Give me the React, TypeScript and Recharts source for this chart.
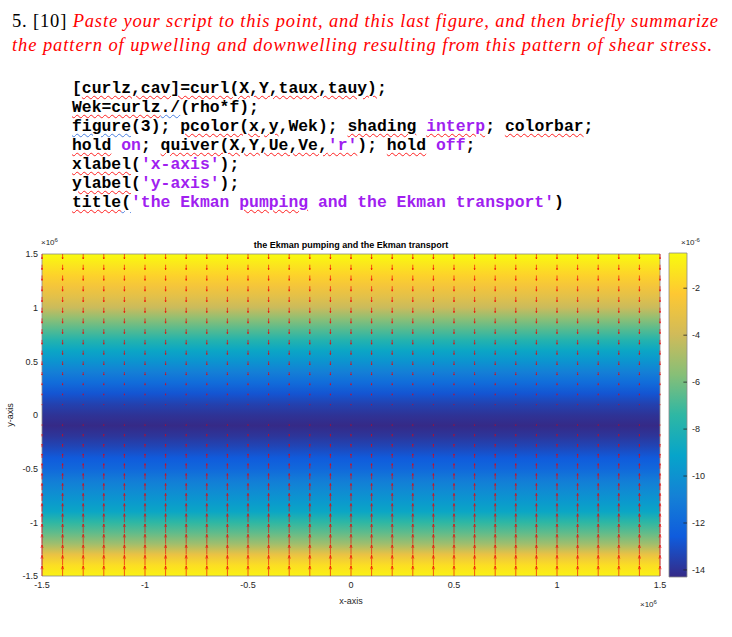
import React from "react";
import { ComposedChart, XAxis, YAxis, ReferenceArea, ReferenceLine } from "recharts";

// quiver grid (x and y, in units of 1e6 m)
const gridX = [-1.5, -1.4, -1.3, -1.2, -1.1, -1.0, -0.9, -0.8, -0.7, -0.6, -0.5, -0.4, -0.3, -0.2, -0.1, 0, 0.1, 0.2, 0.3, 0.4, 0.5, 0.6, 0.7, 0.8, 0.9, 1.0, 1.1, 1.2, 1.3, 1.4, 1.5];
const gridY = [1.5, 1.4, 1.3, 1.2, 1.1, 1.0, 0.9, 0.8, 0.7, 0.6, 0.5, 0.4, 0.3, 0.2, 0.1, 0, -0.1, -0.2, -0.3, -0.4, -0.5, -0.6, -0.7, -0.8, -0.9, -1.0, -1.1, -1.2, -1.3, -1.4, -1.5];

// Ekman pumping Wek (x 1e-6 m/s) for each row of gridY, same along x
const wekValues = [-0.5, -1.2, -1.9, -2.6, -3.3, -4.1, -5.5, -6.6, -7.8, -8.9, -9.9, -10.9, -11.8, -12.8, -13.5, -14.0, -14.3, -13.9, -13.3, -12.6, -12.0, -11.1, -10.4, -9.7, -8.9, -7.4, -6.4, -5.1, -3.0, -1.5, -0.8];

// Ekman transport, northward part Ve for each row (Ue is zero everywhere)
const veValues = [-0.5, -0.5, -0.5, -0.5, -0.5, -0.5, -0.48, -0.46, -0.44, -0.4, -0.36, -0.3, -0.23, -0.16, -0.08, 0, 0.1, 0.2, 0.3, 0.4, 0.5, 0.58, 0.66, 0.74, 0.8, 0.86, 0.91, 0.95, 0.98, 1.0, 1.01];

const xTicks = [-1.5, -1, -0.5, 0, 0.5, 1, 1.5];
const yTicks = [-1.5, -1, -0.5, 0, 0.5, 1, 1.5];
const cbTicks = [-14, -12, -10, -8, -6, -4, -2];

// parula colormap anchors
const PARULA = [
  [0.2081, 0.1663, 0.5292],
  [0.0591, 0.3598, 0.8683],
  [0.0779, 0.504, 0.8384],
  [0.0231, 0.6418, 0.7913],
  [0.1801, 0.7177, 0.6424],
  [0.53, 0.7491, 0.4661],
  [0.8185, 0.7327, 0.3498],
  [0.9955, 0.7861, 0.1967],
  [0.9763, 0.9831, 0.0538],
];

const parula = (t: number) => {
  const c = Math.max(0, Math.min(1, t)) * (PARULA.length - 1);
  const i = Math.min(PARULA.length - 2, Math.floor(c));
  const f = c - i;
  const rgb = PARULA[i].map((v, k) => Math.round(255 * (v + (PARULA[i + 1][k] - v) * f)));
  return `rgb(${rgb.join(",")})`;
};

const cMin = Math.min(...wekValues);
const cMax = Math.max(...wekValues);
const ARROW_SCALE = 0.093;
const FONT = "'Liberation Sans', Arial, sans-serif";
const tickStyle = { fontSize: 9, fill: "#262626", fontFamily: FONT };

const arrows = gridY.flatMap((y, i) => gridX.map((x) => ({ x, y, v: veValues[i] })));

// MATLAB style quiver head
const Arrow = (p: any) => {
  const { x1, y1, x2, y2 } = p;
  const dx = x2 - x1;
  const dy = y2 - y1;
  const a = 0.33;
  const b = 0.33;
  const hx = x2 - a * (dx + b * dy);
  const hy = y2 - a * (dy - b * dx);
  const gx = x2 - a * (dx - b * dy);
  const gy = y2 - a * (dy + b * dx);
  return (
    <path
      d={`M${x1},${y1}L${x2},${y2}M${hx},${hy}L${x2},${y2}L${gx},${gy}`}
      stroke="#f00000"
      strokeWidth={0.85}
      strokeOpacity={0.75}
      fill="none"
    />
  );
};

const Code = ({ children, c }: { children: React.ReactNode; c?: string }) => (
  <span style={{ color: c || "#000" }}>{children}</span>
);
const W = ({ children, blue }: { children: React.ReactNode; blue?: boolean }) => (
  <span
    style={{
      textDecorationLine: "underline",
      textDecorationStyle: "wavy",
      textDecorationColor: blue ? "#4a7fe0" : "#ff2020",
      textDecorationThickness: "1px",
      textUnderlineOffset: "2px",
    }}
  >
    {children}
  </span>
);
const P = "#a020f0";

export default function App() {
  return (
    <div style={{ position: "absolute", left: 0, top: 0, width: 732, height: 637, background: "#fff" }}>
      <svg width={732} height={70} style={{ position: "absolute", left: 0, top: 0 }}>
        <text x={12} y={27} fontSize={18.5} fontFamily="'Liberation Serif', serif" textLength={706} lengthAdjust="spacing">
          <tspan fill="#000">5. [10] </tspan>
          <tspan fill="#ff0000" fontStyle="italic">
            Paste your script to this point, and this last figure, and then briefly summarize
          </tspan>
        </text>
        <text x={12} y={51} fontSize={18.5} fontFamily="'Liberation Serif', serif" fill="#ff0000" fontStyle="italic" textLength={700} lengthAdjust="spacing">
          the pattern of upwelling and downwelling resulting from this pattern of shear stress.
        </text>
      </svg>

      <div
        style={{
          position: "absolute",
          left: 72,
          top: 79,
          fontFamily: "'Liberation Mono', 'Courier New', monospace",
          fontWeight: "bold",
          fontSize: 16.4,
          lineHeight: "19px",
          whiteSpace: "pre",
        }}
      >
        <div>[<W>curlz,cav]=curl(X,Y,taux,tauy)</W>;</div>
        <div><W>Wek=curlz</W><W blue>./</W>(rho*f);</div>
        <div><W blue>figure</W>(3); <W>pcolor(x,y</W>,Wek); <W>shading</W> <W><Code c={P}>interp</Code></W>; <W>colorbar</W>;</div>
        <div><W>hold</W> <Code c={P}>on</Code>; <W>quiver(X,Y,Ue,Ve,<Code c={P}>'r'</Code></W>); <W>hold</W> <Code c={P}>off</Code>;</div>
        <div><W>xlabel</W>(<Code c={P}>'x-axis'</Code>);</div>
        <div><W>ylabel</W>(<Code c={P}>'y-axis'</Code>);</div>
        <div><W>title</W><W blue>(</W><Code c={P}>'the Ekman <W>pumping</W> and the Ekman transport'</Code>)</div>
      </div>

      <div style={{ position: "absolute", left: 0, top: 230 }}>
        <ComposedChart width={732} height={400} margin={{ top: 24, right: 72, bottom: 34, left: 12 }}>
          <defs>
            <linearGradient id="wekFill" x1="0" y1="0" x2="0" y2="1">
              {gridY.map((y, i) => (
                <stop key={i} offset={(1.5 - y) / 3} stopColor={parula((wekValues[i] - cMin) / (cMax - cMin))} />
              ))}
            </linearGradient>
          </defs>
          <XAxis
            type="number"
            dataKey="x"
            domain={[-1.5, 1.5]}
            ticks={xTicks}
            allowDataOverflow
            height={20}
            axisLine={false}
            tickLine={false}
            tickSize={4}
            tickMargin={2}
            tick={tickStyle}
            interval={0}
          />
          <YAxis
            type="number"
            dataKey="y"
            domain={[-1.5, 1.5]}
            ticks={yTicks}
            allowDataOverflow
            width={30}
            axisLine={false}
            tickLine={false}
            tickSize={3}
            tickMargin={1}
            tick={tickStyle}
            interval={0}
          />
          <ReferenceArea x1={-1.5} x2={1.5} y1={-1.5} y2={1.5} fill="url(#wekFill)" fillOpacity={1} stroke="none" />
          {arrows.map((a, i) => (
            <ReferenceLine
              key={i}
              segment={[
                { x: a.x, y: a.y },
                { x: a.x, y: a.y + a.v * ARROW_SCALE },
              ]}
              shape={Arrow}
            />
          ))}
          <ReferenceArea x1={-1.5} x2={1.5} y1={-1.5} y2={1.5} fill="none" fillOpacity={0} stroke="#8a8a8a" strokeWidth={0.8} />
        </ComposedChart>
      </div>

      <div style={{ position: "absolute", left: 660, top: 230 }}>
        <ComposedChart width={72} height={400} margin={{ top: 23, right: 15, bottom: 53, left: 9 }}>
          <defs>
            <linearGradient id="cbFill" x1="0" y1="0" x2="0" y2="1">
              {PARULA.map((_, i) => (
                <stop key={i} offset={i / (PARULA.length - 1)} stopColor={parula(1 - i / (PARULA.length - 1))} />
              ))}
            </linearGradient>
          </defs>
          <XAxis type="number" dataKey="x" domain={[0, 1]} ticks={[0, 1]} allowDataOverflow height={0} axisLine={false} tickLine={false} tick={false} />
          <YAxis
            type="number"
            dataKey="y"
            orientation="right"
            domain={[cMin, cMax]}
            ticks={cbTicks}
            allowDataOverflow
            width={30}
            axisLine={false}
            tickLine={false}
            tickSize={0}
            tickMargin={5}
            tick={{ ...tickStyle, textAnchor: "start" }}
            interval={0}
          />
          <ReferenceArea x1={0} x2={1} y1={cMin} y2={cMax} fill="url(#cbFill)" fillOpacity={1} stroke="#8a8a8a" strokeWidth={0.8} />
          {cbTicks.map((t) => (
            <ReferenceLine key={t} segment={[{ x: 0.8, y: t }, { x: 1, y: t }]} stroke="#262626" strokeWidth={0.8} />
          ))}
        </ComposedChart>
      </div>

      <svg width={732} height={637} style={{ position: "absolute", left: 0, top: 0, pointerEvents: "none" }}>
        <g fontFamily={FONT}>
          <text x={351} y={248} textAnchor="middle" fontSize={9} fontWeight="bold" fill="#000">
            the Ekman pumping and the Ekman transport
          </text>
          <text x={41} y={245} fontSize={8} fill="#262626">
            ×10<tspan dy={-3.5} fontSize={6}>6</tspan>
          </text>
          <text x={640} y={607} fontSize={8} fill="#262626">
            ×10<tspan dy={-3.5} fontSize={6}>6</tspan>
          </text>
          <text x={681} y={245} fontSize={8} fill="#262626">
            ×10<tspan dy={-3.5} fontSize={6}>-6</tspan>
          </text>
          <text x={351} y={604} textAnchor="middle" fontSize={9} fill="#262626">
            x-axis
          </text>
          <text x={13} y={415} textAnchor="middle" fontSize={9} fill="#262626" transform="rotate(-90 13 415)">
            y-axis
          </text>
        </g>
      </svg>
    </div>
  );
}
